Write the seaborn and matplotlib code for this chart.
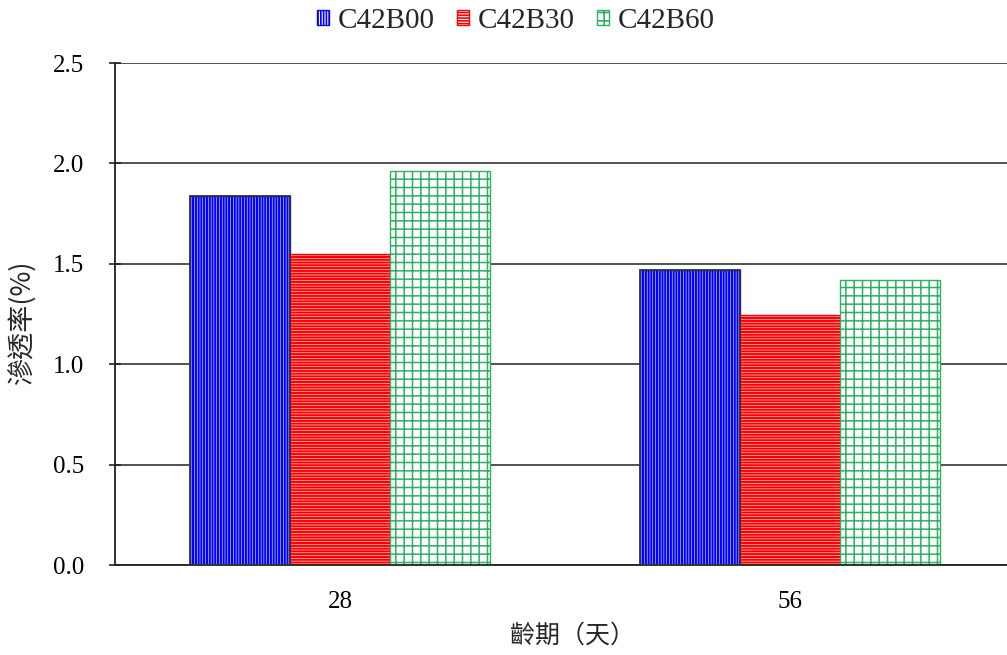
import numpy as np
import pandas as pd
import seaborn as sns
import matplotlib as mpl
import matplotlib.pyplot as plt
from matplotlib.patches import Rectangle

# Data: permeability (%) by curing age for three mixes
ages = ["28", "56"]
mixes = ["C42B00", "C42B30", "C42B60"]
c42b00 = [1.84, 1.47]
c42b30 = [1.55, 1.245]
c42b60 = [1.96, 1.42]
y_ticks = [0.0, 0.5, 1.0, 1.5, 2.0, 2.5]

colors = ["#0000FF", "#FF0000", "#2EAF63"]
hatches = ["||||||", "------", "++"]
hatch_widths = [1.6, 1.6, 1.1]

sns.set_theme(style="white")
plt.rcParams["font.family"] = ["Liberation Serif", "Noto Sans CJK TC", "DejaVu Sans"]
plt.rcParams["hatch.linewidth"] = 1.5

df = pd.DataFrame({
    "age": ages * 3,
    "mix": np.repeat(mixes, len(ages)),
    "rate": c42b00 + c42b30 + c42b60,
})

fig = plt.figure(figsize=(10.07, 6.55), dpi=100)
ax = fig.add_axes([115 / 1007, 90 / 655, 900 / 1007, 502 / 655])
ax.set_facecolor("white")

sns.barplot(data=df, x="age", y="rate", hue="mix", hue_order=mixes,
            palette=colors, width=0.667, gap=0, errorbar=None,
            legend=False, ax=ax, zorder=2)

for cont, col, h, hw in zip(ax.containers, colors, hatches, hatch_widths):
    for p in cont.patches:
        p.set_facecolor("white")
        p.set_edgecolor(col)
        p.set_hatch(h)
        p.set_linewidth(1.0)
        if hasattr(p, "set_hatch_linewidth"):
            p.set_hatch_linewidth(hw)

# dark outline around the blue bars
for p in ax.containers[0].patches:
    ax.add_patch(Rectangle(p.get_xy(), p.get_width(), p.get_height(),
                           fill=False, edgecolor="#333333", linewidth=1.3, zorder=3))

ax.set_ylim(0, 2.5)
ax.set_xlim(-0.5, 1.5)
ax.set_yticks(y_ticks)
ax.set_yticklabels([f"{v:.1f}" for v in y_ticks])
ax.yaxis.grid(True, color="#222222", linewidth=1.1)
ax.set_axisbelow(True)

ax.set_xticks([0, 1])
ax.set_xticklabels(ages)
ax.set_xticks([-0.5, 0.5, 1.5], minor=True)
ax.tick_params(axis="x", which="major", length=0, pad=19, labelsize=18, colors="black")
ax.tick_params(axis="x", which="minor", length=9, width=1.2, direction="out", color="#222222")
ax.tick_params(axis="y", which="major", length=9, width=1.2, direction="inout",
               pad=18, labelsize=18, left=True, color="#222222", labelcolor="black")

for s in ["top", "right"]:
    ax.spines[s].set_visible(False)
for s in ["left", "bottom"]:
    ax.spines[s].set_visible(True)
    ax.spines[s].set_color("#222222")
    ax.spines[s].set_linewidth(1.3)

ax.set_xlabel("齡期（天）", fontsize=18, family=["Noto Sans CJK TC"])
ax.xaxis.set_label_coords(0.508, -0.115)
ax.set_ylabel("滲透率(%)", fontsize=19.5,
              family=["Noto Sans CJK TC", "Liberation Serif"])
ax.yaxis.set_label_coords(-0.087, 0.482)

leg = fig.legend(ax.containers, mixes, loc="center",
                 bbox_to_anchor=(516 / 1007, 1 - 21 / 655),
                 ncol=3, frameon=False, fontsize=21, handlelength=0.42,
                 handleheight=0.42, handletextpad=0.3, columnspacing=0.75)
for hdl in leg.legend_handles:
    if hasattr(hdl, "set_hatch_linewidth"):
        hdl.set_hatch_linewidth(1.2)

fig.savefig("out.png", dpi=100, facecolor="white")
